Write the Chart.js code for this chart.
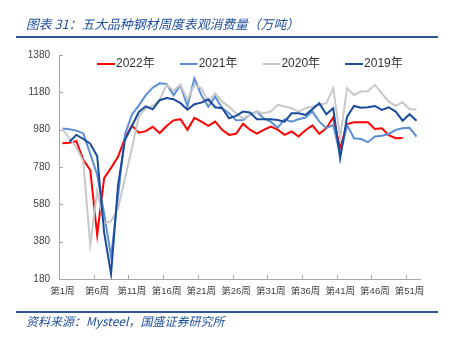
<!DOCTYPE html>
<html>
<head>
<meta charset="utf-8">
<script src="https://cdn.jsdelivr.net/npm/chart.js@4/dist/chart.umd.min.js"></script>
<style>
  html, body { margin: 0; padding: 0; background: #fff; }
  #wrap { position: relative; width: 453px; height: 340px; overflow: hidden; }
  #chart { position: absolute; left: 0; top: 0; }
  .title {
    position: absolute; left: 26px; top: 14px; line-height: 18px;
    font: italic 12.8px "Noto Sans CJK SC", sans-serif; color: #1F4E9C; white-space: nowrap;
  }
  .rule { position: absolute; left: 16px; width: 422px; height: 2px; background: #2F5597; }
  .source {
    position: absolute; left: 26px; top: 312px; line-height: 18px;
    font: italic 12px "Noto Sans CJK SC", sans-serif; color: #1F4E9C; white-space: nowrap;
  }
</style>
</head>
<body>
<div id="wrap">
  <canvas id="chart" width="453" height="340"></canvas>
  <div class="title">图表 31：五大品种钢材周度表观消费量（万吨）</div>
  <div class="rule" style="top:36px"></div>
  <div class="rule" style="top:311px"></div>
  <div class="source">资料来源：Mysteel，国盛证券研究所</div>
</div>
<script>
// Weekly apparent consumption of the five main steel products (10k tonnes)
const weeks = Array.from({ length: 52 }, (_, i) => `第${i + 1}周`);
const yTicks = [180, 380, 580, 780, 980, 1180, 1380];

const y2022 = [
  907, 910, 918, 818, 764, 416, 720, 775, 835, 934,
  1002, 964, 972, 995, 962, 1000, 1030, 1036, 979, 1043,
  1023, 1000, 1023, 979, 952, 958, 1012, 980, 959, 979,
  996, 980, 952, 970, 943, 977, 1003, 958, 988, 1045,
  880, 1010, 1020, 1020, 1020, 984, 988, 950, 934, 935,
  null, null
];
const y2021 = [
  986, 982, 975, 960, 850, 740, 530, 300, 620, 955,
  1060, 1110, 1165, 1205, 1228, 1225, 1165, 1218, 1105, 1255,
  1166, 1103, 1157, 1095, 1068, 1030, 1032, 1060, 1077, 1040,
  1023, 990, 1036, 1023, 1036, 1045, 1077, 1023, 988, 1005,
  845, 1005, 934, 930, 913, 943, 947, 957, 979, 988,
  990, 943
];
const y2020 = [
  982, 934, 886, 810, 362, 650, 477, 490, 555, 720,
  880, 1050, 1095, 1105, 1140, 1220, 1190, 1220, 1140, 1220,
  1202, 1130, 1175, 1130, 1103, 1068, 1040, 1058, 1077, 1068,
  1077, 1113, 1104, 1095, 1077, 1095, 1104, 1113, 1121, 1202,
  940, 1202, 1166, 1184, 1186, 1220, 1175, 1130, 1107, 1127,
  1089, 1089
];
const y2019 = [
  null, 915, 952, 930, 905, 838, 430, 207, 680, 925,
  1000, 1075, 1105, 1089, 1138, 1150, 1143, 1122, 1087, 1116,
  1125, 1143, 1100, 1095, 1041, 1054, 1077, 1072, 1036, 1036,
  1036, 1032, 1023, 1068, 1068, 1059, 1090, 1121, 1063, 1095,
  827, 1050, 1107, 1097, 1100, 1107, 1086, 1100, 1077, 1028,
  1063, 1028
];

const AXIS_COLOR = '#A6A6A6';

// inward tick marks on both axes + the legend row inside the plot
const axisMarks = {
  id: 'axisMarks',
  beforeDatasetsDraw(chart) {
    const { ctx, chartArea: { left, bottom }, scales: { x, y } } = chart;
    ctx.save();
    ctx.strokeStyle = AXIS_COLOR;
    ctx.lineWidth = 1;
    ctx.beginPath();
    yTicks.forEach(v => {
      const py = Math.round(y.getPixelForValue(v)) + 0.5;
      ctx.moveTo(left, py);
      ctx.lineTo(left + 4, py);
    });
    // ticks sit between categories, every 5 weeks
    for (let k = 5; k < weeks.length; k += 5) {
      const px = Math.round((x.getPixelForValue(k - 1) + x.getPixelForValue(k)) / 2) + 0.5;
      ctx.moveTo(px, bottom);
      ctx.lineTo(px, bottom - 4);
    }
    ctx.stroke();
    ctx.restore();
  },
  afterDraw(chart) {
    const ctx = chart.ctx;
    ctx.save();
    ctx.font = '12px "Liberation Sans", "Noto Sans CJK SC", sans-serif';
    ctx.textBaseline = 'middle';
    let cx = 97;
    const cy = 64;
    chart.data.datasets.forEach(ds => {
      ctx.strokeStyle = ds.borderColor;
      ctx.lineWidth = 2;
      ctx.beginPath();
      ctx.moveTo(cx, cy);
      ctx.lineTo(cx + 18, cy);
      ctx.stroke();
      ctx.fillStyle = '#333';
      ctx.fillText(ds.label, cx + 19, cy);
      cx += 19 + ctx.measureText(ds.label).width + 25;
    });
    ctx.restore();
  }
};

const line = (label, data, color, order) => ({
  label, data, order,
  borderColor: color,
  backgroundColor: color,
  borderWidth: 2,
  pointRadius: 0,
  tension: 0,
  spanGaps: false
});

new Chart(document.getElementById('chart'), {
  type: 'line',
  data: {
    labels: weeks,
    datasets: [
      line('2022年', y2022, '#FF0000', 4),
      line('2021年', y2021, '#5B8ED2', 3),
      line('2020年', y2020, '#C8C8C8', 2),
      line('2019年', y2019, '#1B4C9B', 1)
    ]
  },
  options: {
    responsive: false,
    animation: false,
    events: [],
    layout: { padding: { left: 0, top: 55, right: 33, bottom: 0 } },
    plugins: { legend: { display: false }, tooltip: { enabled: false } },
    scales: {
      x: {
        type: 'category',
        offset: true,
        grid: { display: false, drawTicks: false },
        border: { color: AXIS_COLOR, width: 1 },
        ticks: {
          autoSkip: false,
          maxRotation: 0,
          padding: 7,
          color: '#404040',
          font: { size: 9.5, family: '"Liberation Sans", "Noto Sans CJK SC", sans-serif' },
          callback: (v, i) => (i % 5 === 0 ? weeks[i] : '')
        },
        afterFit: s => { s.height = 61; }
      },
      y: {
        min: 180,
        max: 1380,
        grid: { display: false, drawTicks: false },
        border: { color: AXIS_COLOR, width: 1 },
        ticks: {
          padding: 9,
          color: '#404040',
          font: { size: 10, family: '"Liberation Sans", sans-serif' },
          callback: v => String(v)
        },
        afterBuildTicks: s => { s.ticks = yTicks.map(v => ({ value: v })); },
        afterFit: s => { s.width = 59; }
      }
    }
  },
  plugins: [axisMarks]
});
</script>
</body>
</html>
